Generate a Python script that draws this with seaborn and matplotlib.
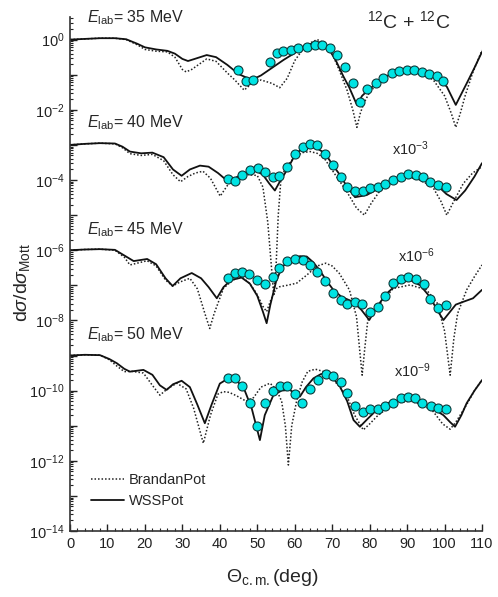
import numpy as np
import pandas as pd
import matplotlib
matplotlib.use("Agg")
import matplotlib.pyplot as plt
import seaborn as sns
from matplotlib.ticker import FixedLocator, FuncFormatter, MultipleLocator
from matplotlib.lines import Line2D

# ── values: log10(dσ/dσMott), already scaled ──
# 35 MeV (x1)
ws35_th = [0, 4, 8, 12, 15, 18, 20, 23, 26, 28, 30, 31.5, 33, 36.5, 39, 42, 45, 48.5, 51, 54, 57, 60, 62,
           64, 66, 67.5, 69, 71, 73, 74.5, 76.6, 78, 79.5, 83.7, 87, 90, 94, 97.9, 100.6, 103, 105.9, 108, 110]
ws35_lg = [0.0, 0.02, 0.04, 0.04, 0.01, -0.12, -0.22, -0.28, -0.32, -0.40, -0.55, -0.61, -0.56, -0.44, -0.50,
           -0.72, -0.98, -1.15, -1.02, -0.80, -0.58, -0.38, -0.25, -0.13, -0.07, -0.10, -0.25, -0.60, -1.05,
           -1.35, -1.86, -1.60, -1.45, -1.08, -0.93, -0.86, -0.90, -1.08, -1.34, -1.86, -1.25, -0.80, -0.35]
bp35_th = [0, 4, 8, 12, 15, 18, 20, 23, 26, 28, 30, 31, 32.5, 36.5, 39, 42, 44, 46.5, 48.5, 51, 54, 56, 58,
           60, 62, 64, 66, 68, 70, 72, 74, 75.5, 76.6, 77.5, 78.5, 80, 83, 86, 90, 94, 97, 100, 101.8, 103,
           104.2, 105.5, 107.5, 110]
bp35_lg = [0.0, 0.02, 0.04, 0.04, 0.0, -0.15, -0.28, -0.33, -0.35, -0.50, -0.85, -0.92, -0.85, -0.55, -0.62,
           -0.95, -1.15, -1.44, -1.25, -1.15, -1.25, -1.37, -1.10, -0.60, -0.30, -0.10, 0.0, -0.10, -0.40,
           -0.90, -1.45, -2.0, -2.5, -2.1, -1.8, -1.5, -1.15, -0.95, -0.87, -0.95, -1.15, -1.6, -2.1, -2.5,
           -2.1, -1.6, -0.95, -0.30]
exp35_th = [44.9, 47.0, 48.9, 53.4, 55.2, 57.0, 58.9, 61.0, 63.2, 65.4, 67.2, 69.4, 71.4, 73.4, 75.5, 77.4,
            79.4, 81.7, 83.7, 85.9, 87.9, 89.9, 91.9, 93.9, 95.9, 97.9, 99.7]
exp35_lg = [-0.87, -1.18, -1.15, -0.63, -0.39, -0.32, -0.30, -0.25, -0.20, -0.15, -0.15, -0.23, -0.44, -0.77,
            -1.25, -1.77, -1.42, -1.23, -1.08, -0.94, -0.89, -0.87, -0.87, -0.91, -0.98, -1.05, -1.18]

# 40 MeV (x10^-3)
ws40_th = [0, 4, 8, 12, 14, 16, 19, 22, 25, 27.5, 29.8, 32, 34.7, 37, 39.5, 41.5, 43, 44.5, 46.3, 49.4, 51.5,
           53.2, 54.7, 56, 57.9, 60.1, 62, 64.1, 66, 68.1, 70, 72.1, 74, 76.1, 79.2, 83, 86.3, 89, 91.7, 95,
           97.9, 100.5, 103.2, 105.5, 108, 110]
ws40_lg = [-3.0, -2.97, -2.95, -2.96, -3.05, -3.19, -3.24, -3.22, -3.35, -3.70, -3.88, -3.70, -3.59, -3.62,
           -3.80, -3.98, -4.02, -3.92, -3.81, -3.72, -3.85, -4.10, -4.30, -4.05, -3.72, -3.28, -3.10, -3.05,
           -3.10, -3.24, -3.55, -3.86, -4.20, -4.49, -4.43, -4.20, -4.05, -3.90, -3.86, -3.98, -4.14, -4.40,
           -4.57, -4.30, -3.90, -3.52]
bp40_th = [0, 4, 8, 12, 14, 16, 19, 22, 25, 27.5, 29.5, 31.5, 33.5, 35.5, 37.5, 40.1, 42.7, 45, 47.5, 50, 51.5,
           52.8, 53.8, 54.4, 55, 55.6, 56.3, 57.5, 60, 62, 64.1, 66, 68, 71.2, 74, 76.5, 78.6, 80.5, 82.6, 86,
           89.7, 93, 96.8, 99, 100.6, 102.5, 105, 107.5, 110]
bp40_lg = [-3.0, -2.97, -2.95, -2.97, -3.08, -3.25, -3.30, -3.27, -3.45, -3.85, -4.05, -3.90, -3.80, -3.75,
           -3.95, -4.46, -4.05, -3.90, -3.85, -3.87, -4.20, -5.20, -6.50, -7.30, -6.50, -5.00, -4.00, -3.65,
           -3.35, -3.22, -3.19, -3.24, -3.40, -3.91, -4.35, -4.80, -5.00, -4.65, -4.33, -4.05, -3.91, -3.98,
           -4.19, -4.60, -5.00, -4.60, -4.10, -3.80, -3.62]
exp40_th = [42.3, 44.1, 46.0, 48.1, 50.1, 52.1, 54.1, 55.9, 58.0, 60.1, 62.1, 64.1, 66.0, 68.1, 70.1, 72.3,
            74.0, 76.1, 78.1, 80.1, 82.1, 84.1, 86.3, 88.3, 90.3, 92.3, 94.2, 96.1, 98.2, 100.3]
exp40_lg = [-3.98, -4.02, -3.86, -3.72, -3.67, -3.76, -3.91, -3.89, -3.64, -3.27, -3.07, -2.98, -3.01, -3.27,
            -3.57, -3.91, -4.19, -4.30, -4.31, -4.24, -4.21, -4.11, -4.00, -3.92, -3.84, -3.86, -3.91, -4.05,
            -4.14, -4.19]

# 45 MeV (x10^-6)
ws45_th = [0, 4, 8, 12, 14.5, 17, 20.6, 23, 25.5, 27.4, 29.5, 32.5, 35, 37, 39.2, 41, 43, 45.8, 48, 50, 51.5,
           52.5, 53.5, 55, 56.5, 58.5, 61.4, 63.2, 65, 66.9, 68.5, 70.3, 72.5, 75.6, 77.8, 79.9, 82, 84.6,
           87.5, 90.8, 93.5, 96.1, 98, 99.7, 101.5, 103, 105, 107.6, 110]
ws45_lg = [-6.0, -5.98, -5.97, -5.99, -6.15, -6.31, -6.25, -6.40, -6.80, -7.02, -6.80, -6.65, -6.80, -7.05,
           -7.37, -7.05, -6.85, -6.78, -6.95, -7.30, -7.75, -8.08, -7.55, -6.90, -6.50, -6.28, -6.17, -6.18,
           -6.35, -6.61, -6.87, -7.13, -7.33, -7.47, -7.70, -7.99, -7.60, -7.23, -6.95, -6.85, -7.00, -7.33,
           -7.70, -7.99, -7.75, -7.55, -7.47, -7.37, -7.13]
bp45_th = [0, 4, 8, 12, 14.5, 16, 20.6, 23, 25.5, 27.4, 29.5, 32, 34, 36, 37.3, 38.5, 41, 43.5, 45.8, 48, 49.8,
           51.5, 52.5, 53.5, 55, 56, 58, 60.5, 63.2, 66, 68.3, 70, 71.9, 74.6, 76.5, 77.3, 78, 78.7, 79.5, 82.1,
           86.3, 90.8, 95.2, 98, 100, 101.5, 102.5, 103.5, 105.9, 108, 110]
bp45_lg = [-6.0, -5.98, -5.97, -6.0, -6.20, -6.42, -6.30, -6.45, -6.85, -7.02, -6.90, -6.80, -7.10, -7.80,
           -8.23, -7.80, -7.08, -6.85, -6.75, -6.95, -7.23, -7.60, -7.75, -7.45, -7.10, -7.04, -7.00, -6.94,
           -6.71, -6.45, -6.37, -6.45, -6.66, -7.13, -7.90, -8.80, -9.56, -8.80, -8.00, -7.61, -7.09, -6.99,
           -7.13, -7.50, -8.30, -9.56, -8.50, -7.80, -7.13, -6.75, -6.42]
exp45_th = [42.3, 44.1, 46.0, 47.9, 49.8, 52.1, 54.1, 55.9, 58.0, 60.1, 62.1, 64.1, 66.0, 68.1, 70.1, 72.3,
            74.0, 76.1, 77.9, 80.1, 82.1, 84.1, 86.3, 88.3, 90.3, 92.3, 94.4, 96.1, 98.2, 100.3]
exp45_lg = [-6.80, -6.66, -6.63, -6.68, -6.85, -6.97, -6.75, -6.52, -6.30, -6.26, -6.28, -6.42, -6.61, -6.87,
            -7.21, -7.42, -7.53, -7.48, -7.54, -7.75, -7.61, -7.30, -6.94, -6.82, -6.75, -6.82, -6.96, -7.39,
            -7.64, -7.56]

# 50 MeV (x10^-9)
ws50_th = [0, 4, 8, 10.5, 12.5, 14.5, 16, 19.6, 22, 24, 25.8, 27.5, 29.8, 32, 34, 36, 37.8, 40, 42.3, 44.5,
           46.4, 48.5, 50.7, 52, 54.3, 56.5, 58.7, 60, 61.4, 63, 65, 67, 68.5, 70.3, 72.1, 74, 75.7, 77.4,
           79.5, 81.9, 85, 88.1, 90.8, 93.5, 96.1, 99.7, 101.5, 102.8, 104.5, 105.9, 108, 110]
ws50_lg = [-9.0, -8.98, -8.99, -9.10, -9.22, -9.38, -9.46, -9.41, -9.55, -9.85, -9.98, -9.82, -9.72, -9.90,
           -10.40, -10.93, -10.40, -9.80, -9.65, -9.72, -9.93, -10.50, -11.41, -10.70, -10.13, -10.00, -9.98,
           -10.08, -10.17, -9.90, -9.65, -9.53, -9.51, -9.65, -9.89, -10.30, -10.84, -11.03, -10.80, -10.55,
           -10.35, -10.27, -10.22, -10.30, -10.46, -10.70, -10.90, -11.03, -10.70, -10.36, -10.00, -9.70]
bp50_th = [0, 4, 8, 10.5, 12.5, 14.5, 16.5, 19.6, 22, 24, 26, 28.5, 31, 33, 35.6, 37.5, 39.5, 40.9, 42.5, 44.5,
           47, 49, 51, 53.4, 55, 56.5, 57.5, 58.3, 59.2, 60.5, 62, 63.5, 65.5, 67.5, 70, 72, 74, 76, 78.3, 80,
           81.9, 86.3, 90.8, 94, 97, 99.5, 101.5, 103, 105.9, 108, 110]
bp50_lg = [-9.0, -8.98, -8.99, -9.12, -9.30, -9.46, -9.45, -9.50, -9.85, -10.13, -9.95, -9.79, -9.95, -10.50,
           -11.50, -10.70, -10.10, -10.03, -10.05, -10.15, -10.30, -10.20, -9.90, -9.79, -9.95, -10.30,
           -11.00, -12.12, -11.00, -10.30, -9.75, -9.45, -9.39, -9.45, -9.65, -9.90, -10.17, -10.70, -11.12,
           -10.95, -10.74, -10.36, -10.30, -10.40, -10.60, -10.95, -11.10, -10.90, -10.40, -10.00, -9.70]
exp50_th = [42.1, 44.1, 46.0, 48.1, 50.0, 52.1, 54.1, 56.1, 58.0, 60.1, 62.0, 64.1, 66.3, 68.3, 70.3, 72.3,
            74.0, 76.1, 78.1, 80.1, 82.1, 84.1, 86.3, 88.4, 90.3, 92.1, 94.1, 96.3, 98.3, 100.4]
exp50_lg = [-9.63, -9.63, -9.87, -10.34, -11.01, -10.34, -10.00, -9.87, -9.87, -10.10, -10.34, -9.96, -9.70,
            -9.54, -9.57, -9.75, -10.06, -10.44, -10.60, -10.51, -10.52, -10.44, -10.36, -10.22, -10.17,
            -10.22, -10.34, -10.44, -10.49, -10.51]

energies = ["35", "40", "45", "50"]
scales = ["", "x10$^{-3}$", "x10$^{-6}$", "x10$^{-9}$"]

# ── style ──────────────────────────────────────────────
sns.set_style("ticks")
plt.rcParams["font.family"] = ["Liberation Sans", "DejaVu Sans"]
plt.rcParams["mathtext.fontset"] = "custom"
plt.rcParams["mathtext.rm"] = "Liberation Sans"
plt.rcParams["mathtext.it"] = "Liberation Sans:italic"
plt.rcParams["mathtext.sf"] = "Liberation Sans"

fig = plt.figure(figsize=(4.98, 5.97), dpi=100)
ax = fig.add_axes([70 / 498, 66 / 597, 412 / 498, 514 / 597])

curves = {
    "35": (ws35_th, ws35_lg, bp35_th, bp35_lg, exp35_th, exp35_lg),
    "40": (ws40_th, ws40_lg, bp40_th, bp40_lg, exp40_th, exp40_lg),
    "45": (ws45_th, ws45_lg, bp45_th, bp45_lg, exp45_th, exp45_lg),
    "50": (ws50_th, ws50_lg, bp50_th, bp50_lg, exp50_th, exp50_lg),
}

for e in energies:
    wth, wlg, bth, blg, xth, xlg = curves[e]
    sns.lineplot(x=bth, y=10 ** np.array(blg), ax=ax, color="#222222", lw=1.1,
                 linestyle=(0, (1, 1.3)), sort=False, estimator=None)
    sns.lineplot(x=wth, y=10 ** np.array(wlg), ax=ax, color="#111111", lw=1.3,
                 sort=False, estimator=None)
    sns.scatterplot(x=xth, y=10 ** np.array(xlg), ax=ax, s=42, color="#00e3e3",
                    edgecolor="#0d3b3b", linewidth=0.8, zorder=5)

ax.set_yscale("log")
ax.set_xlim(0, 110)
ax.set_ylim(1e-14, 10 ** 0.644)

# ticks
ax.xaxis.set_major_locator(MultipleLocator(10))
ax.xaxis.set_minor_locator(MultipleLocator(2))
ax.yaxis.set_major_locator(FixedLocator([10.0 ** k for k in range(-14, 1)]))
ax.yaxis.set_major_formatter(FuncFormatter(
    lambda v, p: "$10^{%d}$" % round(np.log10(v)) if round(np.log10(v)) % 2 == 0 else ""))
minors = [m * 10.0 ** k for k in range(-14, 1) for m in range(2, 10)]
ax.yaxis.set_minor_locator(FixedLocator(minors))
ax.yaxis.set_minor_formatter(FuncFormatter(lambda v, p: ""))
ax.tick_params(which="major", direction="in", length=5, width=1.0, labelsize=10.5,
               colors="#222222", pad=4)
ax.tick_params(which="minor", direction="in", length=2.5, width=0.8, colors="#222222")
for s in ["top", "right"]:
    ax.spines[s].set_visible(False)
for s in ["left", "bottom"]:
    ax.spines[s].set_linewidth(1.2)
    ax.spines[s].set_color("#333333")
ax.set_xlabel("")
ax.set_ylabel("")

# ── annotations ────────────────────────────────────────
lab_y = [0.5, -2.5, -5.55, -8.55]
for e, ly in zip(energies, lab_y):
    ax.text(4.6, 10 ** ly, r"$E_{\rm lab}$= %s MeV" % e, fontsize=11.5, ha="left",
            va="baseline", clip_on=False)

scale_pos = [(91.0, -3.29), (92.6, -6.34), (91.5, -9.61)]
for txt, (sx, sy) in zip(scales[1:], scale_pos):
    ax.text(sx, 10 ** sy, txt, fontsize=10.5, ha="center", va="baseline")

ax.text(90.3, 10 ** 0.33, r"$^{12}$C + $^{12}$C", fontsize=14, ha="center", va="baseline",
        clip_on=False)

fig.text(22 / 498, 1 - 282 / 597, r"d$\sigma$/d$\sigma_{\rm Mott}$", rotation=90,
         fontsize=14, ha="center", va="center")
fig.text(272 / 498, 1 - 578 / 597, r"$\Theta_{\rm c.m.}$(deg)", fontsize=14,
         ha="center", va="center")

handles = [Line2D([], [], color="#222222", lw=1.1, linestyle=(0, (1, 1.3))),
           Line2D([], [], color="#111111", lw=1.3)]
ax.legend(handles, ["BrandanPot", "WSSPot"], loc="lower left", frameon=False,
          bbox_to_anchor=(0.05, 0.045), borderaxespad=0, borderpad=0,
          handlelength=2.3, handletextpad=0.3, labelspacing=0.45, fontsize=10.5)

plt.savefig("out.png", dpi=100)
